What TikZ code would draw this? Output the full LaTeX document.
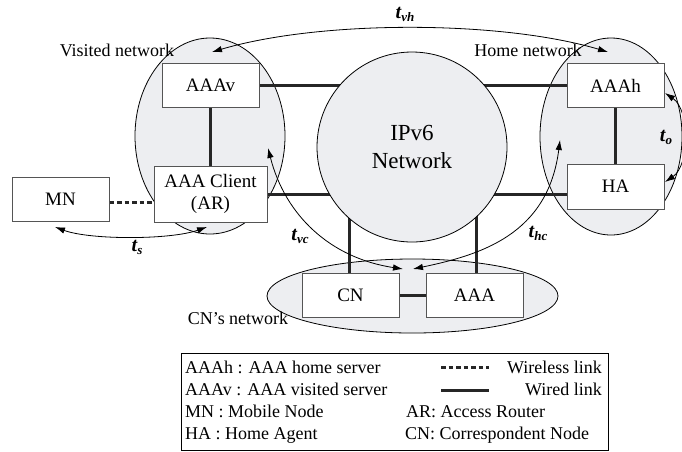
\documentclass[tikz,border=0pt]{standalone}
\usepackage{fontspec}
\setmainfont{Liberation Serif}
\usetikzlibrary{arrows.meta,shapes.geometric}
\pgfdeclarelayer{nets}
\pgfdeclarelayer{wires}
\pgfsetlayers{nets,wires,main}
\definecolor{netgray}{RGB}{237,238,241}
\definecolor{boxline}{RGB}{85,85,85}
% bold italic delay symbol t with a subscript
\newcommand{\tlab}[1]{{\bfseries\itshape\fontsize{20}{20}\selectfont t\kern0.2pt\raisebox{-3pt}{\fontsize{13}{13}\selectfont #1}}}
\tikzset{
  netshape/.style={ellipse, draw=black, line width=0.8pt, fill=netgray, inner sep=0pt},
  devbox/.style={rectangle, draw=boxline, line width=1pt, fill=white,
    minimum width=97pt, minimum height=44pt, inner sep=0pt,
    font=\fontsize{19}{22}\selectfont, align=center},
  wired/.style={line width=3pt, draw=black!85},
  wireless/.style={line width=3pt, draw=black!85, dash pattern=on 4.5pt off 3pt},
  delay/.style={line width=0.8pt, {Latex[length=10pt,width=6.5pt]}-{Latex[length=10pt,width=6.5pt]}},
  caption/.style={font=\fontsize{18}{22}\selectfont, inner sep=0pt},
  tlabel/.style={inner sep=0pt},
}
\begin{document}
\begin{tikzpicture}[x=1pt,y=-1pt]
\useasboundingbox (0,0) rectangle (682,451);

% network areas
\begin{pgfonlayer}{nets}
  \node[netshape, minimum width=150pt, minimum height=196pt] (visited) at (210,136) {};
  \node[netshape, minimum width=142pt, minimum height=197pt] (home) at (611,136.5) {};
  \node[netshape, minimum width=291pt, minimum height=74pt] (cnnet) at (412.5,296) {};
\end{pgfonlayer}

% core network
\node[circle, draw=black, line width=0.8pt, fill=netgray, minimum size=190pt, inner sep=0pt,
      font=\fontsize{23}{28}\selectfont, align=center] (ipv6) at (412,147) {IPv6\\Network};

% devices
\node[devbox] (aaav) at (210.5,85.5) {AAAv};
\node[devbox, minimum width=113pt, minimum height=56pt] (client) at (210.5,194) {AAA Client\\(AR)};
\node[devbox] (mn) at (60.5,199) {MN};
\node[devbox] (aaah) at (615.5,85.5) {AAAh};
\node[devbox, minimum height=45pt] (ha) at (615.5,186.5) {HA};
\node[devbox] (cn) at (350.5,295) {CN};
\node[devbox] (aaa) at (474.5,295) {AAA};

% wired links
\begin{pgfonlayer}{wires}
  \draw[wired] (aaav) -- (aaah);
  \draw[wired] (client) -- (client -| ha);
  \draw[wired] (aaav) -- (client);
  \draw[wired] (aaah) -- (ha);
  \draw[wired] (cn) -- (aaa);
  \draw[wired] ([xshift=-1.5pt]cn.north) -- ([xshift=-1.5pt]cn.north |- ipv6.center);
  \draw[wired] ([xshift=1.5pt]aaa.north) -- ([xshift=1.5pt]aaa.north |- ipv6.center);
\end{pgfonlayer}

% wireless link
\draw[wireless] ([yshift=-3pt]mn.east) -- ([yshift=-3pt]mn.east -| client.west);

% area names
\node[caption] (vname) at (117,50) {Visited network};
\node[caption] (hname) at (528,50) {Home network};
\node[caption] (cname) at (238,318) {CN’s network};

% signalling delays
\coordinate (vhA) at (212,52);
\coordinate (vhB) at (608,52);
\draw[delay] (vhA) .. controls (320,20) and (500,20) .. (vhB);
\node[tlabel] (tvh) at (405,14) {\tlab{vh}};

\coordinate (oA) at (665,93);
\coordinate (oB) at (665,182);
\draw[delay] (oA) .. controls (690,110) and (690,165) .. (oB);
\node[tlabel] (to) at (666,137) {\tlab{o}};

\coordinate (sA) at (55,227);
\coordinate (sB) at (207,227);
\draw[delay] (sA) .. controls (90,240) and (170,240) .. (sB);
\node[tlabel] (ts) at (137,247) {\tlab{s}};

\coordinate (vcA) at (268,148);
\coordinate (vcB) at (403,269);
\draw[delay] (vcA) .. controls (285,215) and (330,258) .. (vcB);
\node[tlabel] (tvc) at (300,236) {\tlab{vc}};

\coordinate (hcA) at (560,140);
\coordinate (hcB) at (413,269);
\draw[delay] (hcA) .. controls (548,235) and (480,255) .. (hcB);
\node[tlabel] (thc) at (538,233) {\tlab{hc}};

% legend
\node[draw=black, line width=0.8pt, minimum width=427pt, minimum height=97pt,
      anchor=north west, inner sep=0pt] (legend) at (181,353) {};
\node[caption, anchor=base west] (k1) at (185,373) {AAAh : AAA home server};
\node[caption, anchor=base west] (k2) at (185,395) {AAAv : AAA visited server};
\node[caption, anchor=base west] (k3) at (185,417) {MN : Mobile Node};
\node[caption, anchor=base west] (k4) at (185,439) {HA : Home Agent};
\coordinate (wlA) at (441,367);
\coordinate (wlB) at (489,367);
\draw[wireless] (wlA) -- (wlB);
\node[caption, anchor=base east] (k5) at (602,373) {Wireless link};
\coordinate (wdA) at (441,390);
\coordinate (wdB) at (489,390);
\draw[wired] (wdA) -- (wdB);
\node[caption, anchor=base east] (k6) at (602,395) {Wired link};
\node[caption, anchor=base west] (k7) at (406,417) {AR: Access Router};
\node[caption, anchor=base west] (k8) at (405,439) {CN: Correspondent Node};
\end{tikzpicture}
\end{document}
